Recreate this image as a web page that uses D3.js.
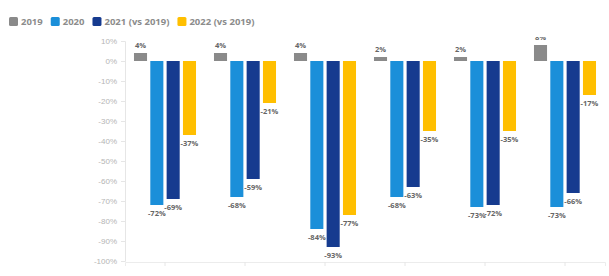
<!DOCTYPE html>
<html>
<head>
<meta charset="utf-8">
<script src="https://cdn.jsdelivr.net/npm/d3@7"></script>
<style>
  body { margin: 0; background: #fff; }
  svg { display: block; font-family: "Open Sans", "DejaVu Sans", sans-serif; }
</style>
</head>
<body>
<div id="chart"></div>
<script>
// data
var groups = ["A", "B", "C", "D", "E", "F"];
var seriesNames = ["2019", "2020", "2021 (vs 2019)", "2022 (vs 2019)"];
var v2019 = [4, 4, 4, 2, 2, 8];
var v2020 = [-72, -68, -84, -68, -73, -73];
var v2021 = [-69, -59, -93, -63, -72, -66];
var v2022 = [-37, -21, -77, -35, -35, -17];
var yTicks = [10, 0, -10, -20, -30, -40, -50, -60, -70, -80, -90, -100];

var colors = ["#8a8a8a", "#1b8fd9", "#163b8f", "#ffbf00"];
var seriesValues = [v2019, v2020, v2021, v2022];

var width = 609, height = 276;
var plotLeft = 125, plotRight = 605, plotTop = 41, plotBottom = 261;

var svg = d3.select("#chart").append("svg")
    .attr("width", width)
    .attr("height", height);

var x0 = d3.scaleBand().domain(groups).range([plotLeft, plotRight]).paddingInner(0).paddingOuter(0);
var x1 = d3.scaleBand().domain(seriesNames).range([0, x0.bandwidth()]).paddingInner(0.2).paddingOuter(0.55);
var y = d3.scaleLinear().domain([-100, 10]).range([plotBottom, plotTop]);

// y axis
var yAxis = svg.append("g")
    .attr("transform", "translate(" + plotLeft + ",0)")
    .call(d3.axisLeft(y).tickValues(yTicks).tickSize(4).tickFormat(function(d) { return d + "%"; }));
yAxis.select(".domain").attr("stroke", "#e6e6e6");
yAxis.selectAll(".tick line").attr("stroke", "#e6e6e6");
yAxis.selectAll("text").attr("fill", "#b5b5b5").attr("font-size", "8px").attr("x", -8);

// x axis
var xAxis = svg.append("g")
    .attr("transform", "translate(0," + (plotBottom + 1) + ")")
    .call(d3.axisBottom(x0).tickSize(4).tickFormat(""));
xAxis.select(".domain").attr("stroke", "#ececec");
xAxis.selectAll(".tick line").attr("stroke", "#e6e6e6");

// flatten
var rows = [];
groups.forEach(function(g, i) {
  seriesNames.forEach(function(s, j) {
    rows.push({ group: g, series: s, idx: j, value: seriesValues[j][i] });
  });
});

svg.append("g").selectAll("rect")
  .data(rows)
  .enter().append("rect")
    .attr("x", function(d) { return x0(d.group) + x1(d.series); })
    .attr("width", x1.bandwidth())
    .attr("y", function(d) { return d.value >= 0 ? y(d.value) : y(0); })
    .attr("height", function(d) { return Math.abs(y(d.value) - y(0)); })
    .attr("fill", function(d) { return colors[d.idx]; });

svg.append("clipPath").attr("id", "lblclip")
  .append("rect").attr("x", 0).attr("y", 37).attr("width", width).attr("height", height);

svg.append("g").attr("clip-path", "url(#lblclip)").selectAll("text")
  .data(rows)
  .enter().append("text")
    .attr("x", function(d) { return x0(d.group) + x1(d.series) + x1.bandwidth() / 2; })
    .attr("y", function(d) { return d.value >= 0 ? y(d.value) - 5 : y(d.value) + 11; })
    .attr("text-anchor", "middle")
    .attr("font-size", "7.5px")
    .attr("font-weight", "bold")
    .attr("fill", "#666")
    .text(function(d) { return d.value + "%"; });

// legend, laid out left to right
var legend = svg.append("g").attr("transform", "translate(9,17)");
var lx = 0;
seriesNames.forEach(function(name, i) {
  var item = legend.append("g").attr("transform", "translate(" + lx + ",0)");
  item.append("rect")
      .attr("width", 9).attr("height", 9).attr("rx", 1.5)
      .attr("fill", colors[i]);
  var t = item.append("text")
      .attr("x", 12).attr("y", 8)
      .attr("font-size", "9.5px")
      .attr("font-weight", "bold")
      .attr("fill", "#8c8c8c")
      .text(name);
  lx += 12 + t.node().getComputedTextLength() + 8;
});
</script>
</body>
</html>
